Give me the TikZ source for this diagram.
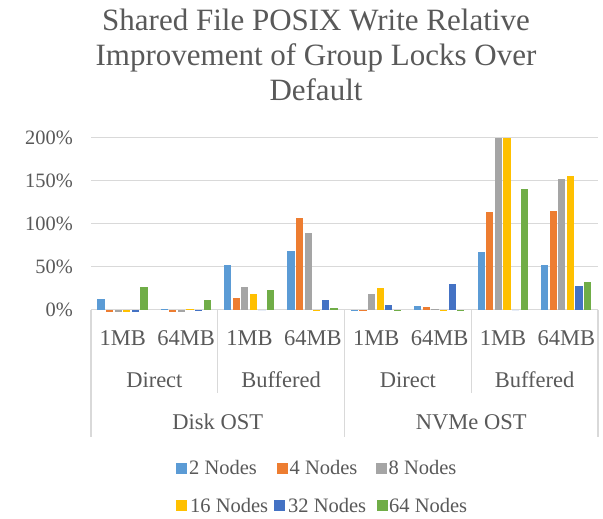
\documentclass[tikz,border=0pt]{standalone}
\usepackage{fontspec}
\setmainfont{Liberation Serif}
\definecolor{txt}{HTML}{595959}
\definecolor{gridc}{HTML}{D9D9D9}
\definecolor{cA}{HTML}{5B9BD5}
\definecolor{cB}{HTML}{ED7D31}
\definecolor{cC}{HTML}{A5A5A5}
\definecolor{cD}{HTML}{FFC000}
\definecolor{cE}{HTML}{4472C4}
\definecolor{cF}{HTML}{70AD47}
\begin{document}
\begin{tikzpicture}[x=1pt,y=-1pt,
  gridline/.style={draw=gridc,line width=1.3pt},
  sepline/.style={draw=gridc,line width=1.3pt},
  ylab/.style={text=txt,inner sep=0pt,anchor=base east,font=\fontsize{20.4}{24}\selectfont},
  catlab/.style={text=txt,inner sep=0pt,anchor=base,font=\fontsize{22.5}{27}\selectfont},
  titlelab/.style={text=txt,inner sep=0pt,anchor=base,font=\fontsize{31}{35}\selectfont},
  legbox/.style={inner sep=0pt,minimum size=11pt,draw=none},
  legtext/.style={text=txt,inner sep=0pt,anchor=base west,font=\fontsize{20.5}{24}\selectfont}]
\useasboundingbox (0,0) rectangle (603,519);
\fill[white] (0,0) rectangle (603,519);
% title
\node[titlelab] (t1) at (316,30.5) {Shared File POSIX Write Relative};
\node[titlelab] (t2) at (316,65.5) {Improvement of Group Locks Over};
\node[titlelab] (t3) at (316,100.5) {Default};
% gridlines and y labels
\foreach \v/\l in {0/0,50/50,100/100,150/150,200/200}{
  \draw[gridline] (91,{309.5-0.86*\v}) -- (598,{309.5-0.86*\v});
  \node[ylab] (y\v) at (73,{309.5-0.86*\v+6.9}) {\l\%};
}
% bars
\foreach \c/\a/\b/\d/\e/\f/\g in {
  0/12/-2.5/-2.5/-2.5/-2.5/26,
  1/0.8/-2.5/-2.5/0.8/-1.5/10.7,
  2/51.7/13.8/25.8/18.4/0/22.7,
  3/67.6/106/88.6/-1.5/11/1.2,
  4/-2/-2/18/25.4/5.2/-2,
  5/4.5/3.3/0.5/-2/29.3/-2,
  6/66.5/113/200/200/0/140,
  7/52/115/151.7/155/27/31.6}{
  \foreach \j/\val/\col in {0/\a/cA,1/\b/cB,2/\d/cC,3/\e/cD,4/\f/cE,5/\g/cF}{
    \fill[\col] ({91+\c*63.375+6.3+\j*8.6},309.5) rectangle ++(7.2,{-0.86*\val});
  }
}
% category separators
\draw[sepline] (91,309.5) -- (91,437);
\draw[sepline] (217.75,309.5) -- (217.75,393);
\draw[sepline] (344.5,309.5) -- (344.5,437);
\draw[sepline] (471.25,309.5) -- (471.25,393);
\draw[sepline] (598,309.5) -- (598,437);
% category labels
\foreach \c/\t in {0/1MB,1/64MB,2/1MB,3/64MB,4/1MB,5/64MB,6/1MB,7/64MB}{
  \node[catlab] (c\c) at ({91+\c*63.375+31.69},345) {\t};
}
\foreach \c/\t in {0/Direct,1/Buffered,2/Direct,3/Buffered}{
  \node[catlab] (g\c) at ({91+\c*126.75+63.375},387) {\t};
}
\node[catlab] (o0) at (217.75,429.5) {Disk OST};
\node[catlab] (o1) at (471.25,429.5) {NVMe OST};
% legend
\node[legbox,fill=cA] (k1) at (181,468) {};
\node[legtext] (n1) at (189,474.5) {2 Nodes};
\node[legbox,fill=cB] (k2) at (282.5,468) {};
\node[legtext] (n2) at (289.5,474.5) {4 Nodes};
\node[legbox,fill=cC] (k3) at (381.5,468) {};
\node[legtext] (n3) at (388.5,474.5) {8 Nodes};
\node[legbox,fill=cD] (k4) at (181,505.5) {};
\node[legtext] (n4) at (190,512) {16 Nodes};
\node[legbox,fill=cE] (k5) at (279.5,505.5) {};
\node[legtext] (n5) at (288,512) {32 Nodes};
\node[legbox,fill=cF] (k6) at (382,505.5) {};
\node[legtext] (n6) at (389,512) {64 Nodes};
\end{tikzpicture}
\end{document}
